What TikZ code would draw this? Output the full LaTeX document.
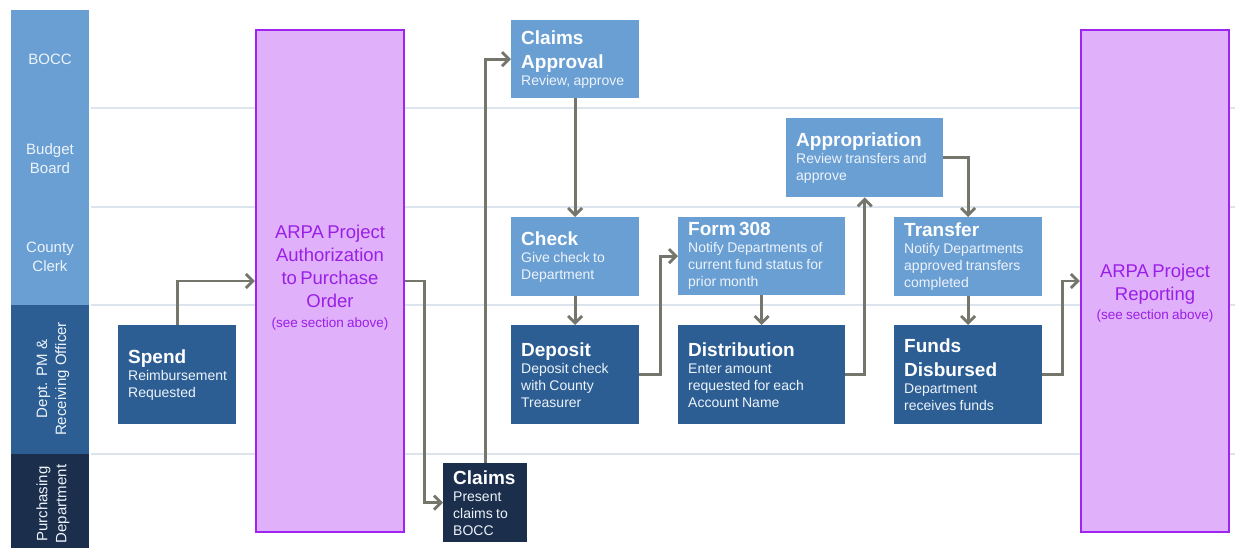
\documentclass[tikz,border=0pt]{standalone}
\usepackage{fontspec}
\setmainfont{Liberation Sans}
\usetikzlibrary{arrows.meta}
\setlength{\parindent}{0pt}
\definecolor{lightblue}{HTML}{6A9FD4}
\definecolor{midblue}{HTML}{2C5E93}
\definecolor{navy}{HTML}{1B2E4C}
\definecolor{arpafill}{HTML}{E0B0FA}
\definecolor{arpaedge}{HTML}{A024F0}
\definecolor{arpatext}{HTML}{9A1FE6}
\definecolor{flowgray}{HTML}{74766C}
\definecolor{laneline}{HTML}{DCE4EE}
\definecolor{softwhite}{HTML}{EDF3FA}
\newcommand{\ttl}{\fontsize{19}{24}\selectfont\bfseries\color{white}}
\newcommand{\bdy}{\fontsize{14}{17}\selectfont\mdseries\color{softwhite}}
\begin{document}
\begin{tikzpicture}[x=1pt,y=-1pt,
  stepbox/.style 2 args={rectangle, anchor=north west, inner xsep=10pt, inner ysep=0pt,
    align=left, text width=#1, minimum height=#2},
  lanelabel/.style={text=softwhite, align=center, font=\fontsize{15}{19}\selectfont},
  arpabox/.style={rectangle, draw=arpaedge, line width=2.5pt, fill=arpafill,
    minimum width=148pt, minimum height=502pt},
  arpalabel/.style={text=arpatext, align=center, text width=146pt, inner sep=0pt},
  flow/.style={draw=flowgray, line width=2.8pt, -{Straight Barb[length=7pt,width=14pt]}},
  sep/.style={draw=laneline, line width=2pt}]
\useasboundingbox (0,0) rectangle (1235,548);

% lane column
\fill[lightblue] (11,10) rectangle (89,305);
\fill[midblue] (11,305) rectangle (89,454);
\fill[navy] (11,454) rectangle (89,548);
\node[lanelabel] (lbocc) at (50,59) {BOCC};
\node[lanelabel] (lbudget) at (50,159) {Budget\\Board};
\node[lanelabel] (lclerk) at (50,257) {County\\Clerk};
\node[lanelabel, rotate=90] (ldept) at (53,379) {Dept. PM \&\\Receiving Officer};
\node[lanelabel, rotate=90] (lpurch) at (53,504) {Purchasing\\Department};

% lane separators
\draw[sep] (91,108) -- (1235,108);
\draw[sep] (91,207) -- (1235,207);
\draw[sep] (91,305) -- (1235,305);
\draw[sep] (91,454) -- (1235,454);

% ARPA boxes
\node[arpabox] (arpaL) at (330,281) {};
\node[arpalabel] (arpaLt) at (330,278) {\fontsize{18.5}{23}\selectfont ARPA Project\par Authorization\par to Purchase\par Order\par\fontsize{13.5}{20}\selectfont (see section above)\par};
\node[arpabox] (arpaR) at (1155,281) {};
\node[arpalabel] (arpaRt) at (1155,293) {\fontsize{18.5}{23}\selectfont ARPA Project\par Reporting\par\fontsize{13.5}{19}\selectfont (see section above)\par};

% steps
\node[stepbox={98pt}{99pt}, fill=midblue] (spend) at (118,325) {\ttl Spend\par\bdy Reimbursement\par Requested\par};
\node[stepbox={64pt}{79pt}, fill=navy] (claims) at (443,463) {\ttl Claims\par\bdy Present\par claims to\par BOCC\par};
\node[stepbox={108pt}{78pt}, fill=lightblue] (capp) at (511,20) {\ttl Claims\par Approval\par\bdy Review, approve\par};
\node[stepbox={108pt}{79pt}, fill=lightblue] (check) at (511,217) {\ttl Check\par\bdy Give check to\par Department\par};
\node[stepbox={108pt}{99pt}, fill=midblue] (deposit) at (511,325) {\ttl Deposit\par\bdy Deposit check\par with County\par Treasurer\par};
\node[stepbox={147pt}{78pt}, fill=lightblue] (form) at (678,217) {\ttl Form 308\par\bdy Notify Departments of\par current fund status for\par prior month\par};
\node[stepbox={147pt}{99pt}, fill=midblue] (dist) at (678,325) {\ttl Distribution\par\bdy Enter amount\par requested for each\par Account Name\par};
\node[stepbox={137pt}{79pt}, fill=lightblue] (appr) at (786,118) {\ttl Appropriation\par\bdy Review transfers and\par approve\par};
\node[stepbox={128pt}{79pt}, fill=lightblue] (transfer) at (894,217) {\ttl Transfer\par\bdy Notify Departments\par approved transfers\par completed\par};
\node[stepbox={128pt}{99pt}, fill=midblue] (funds) at (894,325) {\ttl Funds\par Disbursed\par\bdy Department\par receives funds\par};

% connectors
\draw[flow] (spend.north) |- (arpaL.west);
\draw[flow] (arpaL.east) -- ++(19,0) |- (claims.west);
\draw[flow] (claims.north) |- (capp.west);
\draw[flow] (capp.south) -- (check.north);
\draw[flow] (check.south) -- (deposit.north);
\draw[flow] (deposit.east) -- ++(21,0) |- (form.west);
\draw[flow] (form.south) -- (dist.north);
\draw[flow] (dist.east) -| (appr.south);
\draw[flow] (appr.east) -| (transfer.north);
\draw[flow] (transfer.south) -- (funds.north);
\draw[flow] (funds.east) -- ++(20,0) |- (arpaR.west);
\end{tikzpicture}
\end{document}
